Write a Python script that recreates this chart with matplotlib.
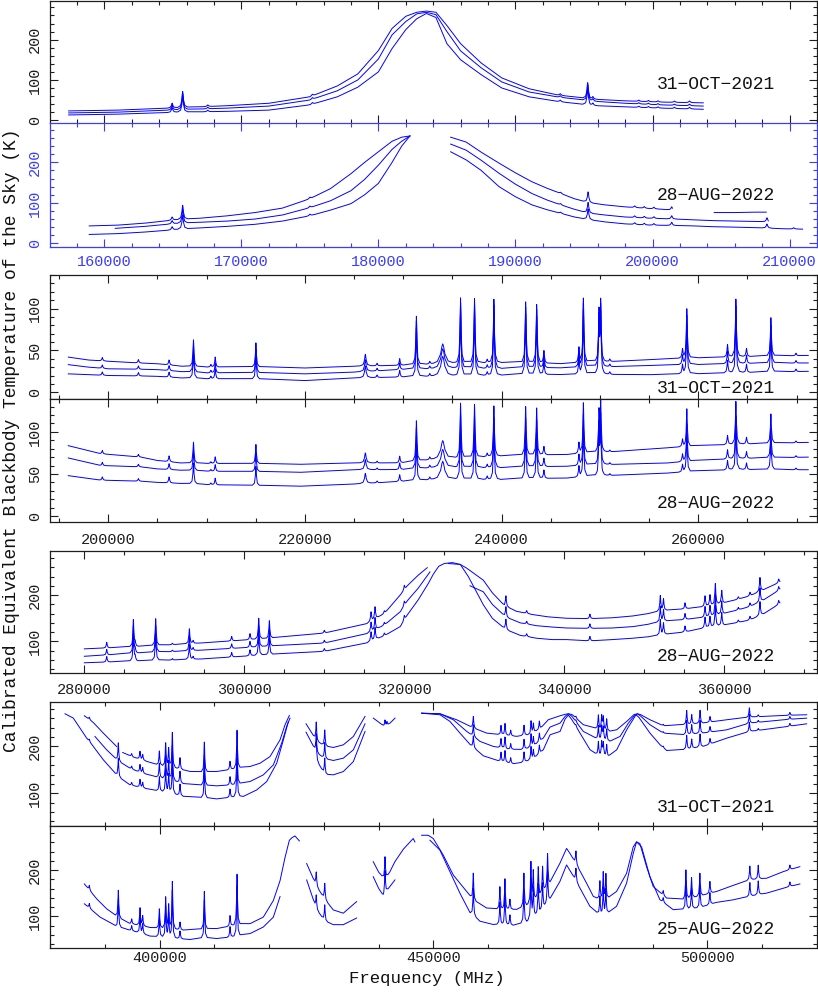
import numpy as np
import matplotlib
matplotlib.use("Agg")
import matplotlib.pyplot as plt
from matplotlib.ticker import MultipleLocator

plt.rcParams['font.family'] = ['Liberation Mono', 'DejaVu Sans Mono']
plt.rcParams['axes.formatter.useoffset'] = False

W, H = 818, 993
LINE = '#0000ff'
INK = '#1e1e1e'
AXBLUE = '#3c3cff'

# ---------------- panel 1 : 31-OCT-2021, 157-204 GHz ----------------
p1_freq = [157400, 161000, 165000, 169000, 172000, 175000, 177000, 178500, 180000, 181000, 182000, 182800,
           183500, 184200, 185000, 186000, 187500, 189000, 191000, 193000, 195500, 198000, 200500, 203700]
p1_top = [23, 25, 30, 36, 42, 58, 85, 115, 173, 228, 258, 268, 271, 268, 235, 190, 142, 105, 78, 63, 52, 48, 45, 43]
p1_mid = [18, 20, 25, 30, 35, 50, 73, 100, 152, 212, 245, 264, 268, 262, 220, 172, 130, 95, 70, 58, 47, 42, 38, 35]
p1_low = [13, 15, 19, 22, 25, 38, 58, 82, 120, 178, 225, 252, 265, 255, 190, 150, 113, 80, 58, 47, 36, 33, 30, 27]
p1_lines = [164950, 165720, 167550, 175180, 193270, 195270, 195650, 199000, 199700, 200400, 201600, 202700]
p1_amps = [12, 40, 4, 4, 4, 40, 6, 3, 3, 3, 3, 4]

# ---------------- panel 2 : 28-AUG-2022, 158-211 GHz ----------------
p2_top_a_f = [158900, 161000, 163000, 165000, 167000, 169000, 171000, 173000, 175000, 176500, 178000, 179000,
              180000, 181000, 181700, 182300]
p2_top_a = [43, 45, 50, 57, 62, 68, 76, 87, 110, 135, 172, 200, 226, 252, 262, 265]
p2_mid_a_f = [160800, 163000, 165000, 167000, 169000, 171000, 173000, 175000, 176500, 178000, 179000, 180000,
              181000, 181700, 182300]
p2_mid_a = [37, 42, 48, 52, 55, 60, 70, 88, 105, 130, 158, 193, 232, 252, 265]
p2_low_a_f = [158900, 161000, 163000, 165000, 167000, 169000, 171000, 173000, 175000, 176500, 178000, 179000,
              180000, 181000, 181700, 182300]
p2_low_a = [22, 24, 28, 33, 38, 42, 47, 55, 68, 82, 98, 120, 148, 200, 240, 265]
p2_top_b_f = [185270, 186400, 187500, 188800, 190000, 191200, 192300, 193300, 194300, 195300, 196500, 198000,
              199700, 200700, 201450]
p2_top_b = [262, 250, 225, 198, 174, 152, 136, 123, 110, 100, 95, 90, 86, 84, 82]
p2_top_c_f = [204500, 206000, 207500, 208300]
p2_top_c = [76, 76, 77, 77]
p2_mid_b_f = [185270, 186400, 187500, 188800, 190000, 191200, 192300, 193300, 194300, 195300, 196500, 198000,
              199700, 201500, 203000, 204500, 206000, 207500, 208450]
p2_mid_b = [245, 230, 205, 173, 146, 123, 107, 95, 84, 74, 70, 65, 62, 60, 58, 56, 55, 54, 53]
p2_low_b_f = [185270, 186400, 187500, 188800, 190000, 191200, 192300, 193300, 194300, 195300, 196500, 198000,
              199700, 201500, 203000, 204500, 206000, 208000, 209500, 210950]
p2_low_b = [226, 206, 180, 140, 115, 95, 83, 74, 65, 58, 53, 48, 45, 44, 43, 41, 40, 38, 36, 35]
p2_lines = [164950, 165720, 175000, 193300, 195300, 198700, 199400, 200100, 201400, 208350, 210300]
p2_amps = [8, 35, 4, 3, 27, 4, 4, 4, 8, 10, 3]

# ---------------- panels 3 / 4 : 196-271 GHz ----------------
p3_freq = [195930, 198000, 200000, 203000, 205000, 207500, 210000, 215000, 220000, 225000, 229700, 235000,
           240000, 246000, 250500, 255200, 260000, 263650, 271180]
p3_top = [42, 38.5, 37, 35, 34, 31, 30, 30, 29, 31, 32, 34, 35, 34, 36, 39, 41, 42, 44]
p3_mid = [33, 30, 28, 27.5, 27, 24.5, 23, 23, 22, 24, 27, 28, 28, 29, 30, 32, 33, 34, 35]
p3_low = [22, 21, 20, 19.5, 19, 17, 16, 15.5, 14, 17, 18, 19, 20, 21, 21, 21, 22, 23, 25]

p4_freq = [195930, 199220, 203290, 204990, 207360, 210760, 215000, 219580, 225010, 229700, 233100, 239900,
           246680, 251000, 256860, 263650, 271180]
p4_top = [83.6, 74, 70, 66, 63, 62.3, 62, 61.5, 63, 63, 67, 71, 73, 76, 81, 85, 87.5]
p4_mid = [69, 60, 58.4, 56, 54.4, 53, 52.5, 52, 55, 55, 57, 57, 59, 61, 63, 68, 70]
p4_low = [48, 42.6, 41.4, 40, 38.7, 37, 36, 35.5, 38, 41, 43, 43, 45, 48, 51, 55, 55]

p34_lines = [199390, 203060, 206180, 208660, 210430, 210870, 215010, 226140, 227330, 229630,
             231330, 232690, 234010, 235820, 237240, 238530, 239210, 242440, 243560, 244300,
             247860, 248310, 249900, 250070, 251000, 258390, 258830, 262970, 263820, 264900,
             267380, 269930]
p3_amps = [4, 4, 6, 32, 3, 12, 29, 14, 3, 8, 58, 3, 24, 78, 77, 4, 76, 73, 70, 15,
           18, 77, 58, 70, 3, 11, 59, 15, 69, 10, 46, 3]
p4_amps = [4, 3, 7, 25, 2, 8, 23, 12, 2, 8, 48, 3, 22, 65, 63, 4, 60, 58, 56, 10,
           13, 60, 47, 57, 2, 9, 45, 11, 51, 8, 35, 2]
p34_width = [60, 60, 60, 60, 60, 60, 60, 90, 60, 60, 60, 60, 220, 60, 60, 60, 60, 60, 60, 60,
             60, 60, 60, 60, 60, 60, 60, 60, 60, 60, 60, 60]

# ---------------- panel 5 : 28-AUG-2022, 280-367 GHz ----------------
p5_top_a_f = [280000, 286000, 294500, 302800, 310000, 315300, 317500, 319500, 320500, 321750, 322870]
p5_top_a = [84, 88, 96.5, 106, 118, 138, 160, 200, 222, 243, 259]
p5_mid_a_f = [280000, 286000, 294500, 302800, 310000, 315300, 317500, 319500, 320500, 321750, 323210]
p5_mid_a = [68, 74, 81, 89, 96.5, 116.5, 135, 164, 190, 215, 250]
p5_low_f = [280000, 286000, 294500, 302800, 310000, 315300, 317500, 319500, 320500, 321750, 323000, 323630,
            324300, 325000, 326000, 327000, 328000, 329880, 331000, 332700, 334500, 336500, 338500, 340300,
            343200, 346000, 348600, 350500, 352200, 355000, 357600, 360000, 363200, 365000, 366960]
p5_low = [54, 57, 62, 71, 78.6, 96.5, 112, 132, 160, 190, 225, 245, 262, 268, 270, 266, 240, 179, 150, 125,
          113, 107, 104, 104, 101, 104, 107, 110, 114, 120, 129, 135, 146, 160, 182]
p5_top_b_f = [325500, 327000, 327800, 329880, 331000, 332500, 334000, 336000, 338000, 340300, 343200, 346000,
              348600, 350500, 352200, 355000, 357600, 360000, 363200, 365000, 366960]
p5_top_b = [268, 266, 258, 232, 205, 177, 165, 158, 153, 150, 149, 151, 155, 160, 166, 170, 175, 183, 198, 212, 228]
p5_mid_b_f = [328210, 329880, 331000, 332700, 334500, 336500, 338500, 340300, 343200, 346000, 348600, 350500,
              352200, 355000, 357600, 360000, 363200, 365000, 366960]
p5_mid_b = [220, 207, 180, 152, 140, 134, 131, 129, 128, 129, 132, 137, 143, 147, 152, 160, 175, 190, 212]
p5_lines = [282800, 286130, 286350, 288920, 291000, 293130, 293600, 298420, 300710, 301800,
            303130, 310000, 315840, 316340, 317500, 320000, 332700, 335300, 343200, 352000,
            352400, 355090, 357590, 358210, 358880, 359680, 361750, 363210, 364460, 366800]
p5_amps = [12, 58, 10, 58, 3, 32, 6, 10, 13, 45, 38, 6, 20, 26, 6, 10, 23, 6, 10, 33,
           25, 13, 23, 23, 45, 28, 5, 8, 30, 8]

# ---------------- panel 6 : 31-OCT-2021, 383-518 GHz ----------------
p6_top_a_f = [386270, 387910, 389740, 392170]
p6_top_a = [265.5, 251, 228.4, 199.8]
p6_top_b_f = [393270, 395210, 397650, 400080, 402510, 405560, 407990, 410430, 412860, 414680, 416510, 418340,
              420160, 421990, 422900, 423690]
p6_top_b = [187, 177, 167.7, 158.4, 153.4, 146.3, 144.1, 146.3, 149.9, 153.4, 157, 164.1, 178.4, 214.1, 246.2, 266.2]
p6_mid_a_f = [388210, 390340, 392470, 394600, 396430, 400080, 404340, 407990, 410430, 414080, 416510, 418940,
              420770, 422290, 423200, 423810]
p6_mid_a = [221.3, 192.7, 167.7, 153.4, 144.1, 132, 119.9, 115.6, 115.6, 117.7, 124.9, 139.2, 160.6, 207, 242.7, 260.5]
p6_low_a_f = [382740, 384260, 385480, 386690, 387910, 389740, 392470, 394600, 397040, 400080, 404340, 407990,
              410430, 412860, 415290, 417730, 419550, 421380, 422600, 423510]
p6_low_a = [269.8, 260.5, 239.1, 217.7, 199.8, 171.3, 134.2, 117.7, 110.6, 103.5, 92.7, 89.2, 87.7, 90.6, 92.7,
            107, 124.9, 164.1, 214.1, 253.4]
p6_g2_f = [426730, 428680, 430200, 431720, 433540, 435370, 437500]
p6_g2_top = [248.4, 210.6, 199.8, 197.7, 203.4, 221.3, 264.1]
p6_g2_mid = [230.5, 185.6, 172.7, 169.9, 174.9, 192.7, 248.4]
p6_g2_low_f = [428550, 430200, 431720, 433540, 435370, 437500]
p6_g2_low = [171.3, 139.2, 139.2, 146.3, 167.7, 232]
p6_g3_f = [439020, 440200, 441150, 442100, 442980]
p6_g3 = [260.5, 250, 241.3, 250, 260.5]
p6_top_c_f = [447840, 451190, 454230, 457270, 459710, 462140, 465180, 467620, 469440, 470960, 473100, 474000,
              474610, 475300, 477350, 480390, 482220, 483440, 485260, 486600, 487210, 487800, 489520, 491960,
              495610, 499260, 503520, 507780, 513860, 518120]
p6_top_c = [271, 269.8, 257, 239, 228.4, 224.8, 221.3, 224.8, 237, 257, 265.5, 268.5, 269.8, 268, 246.3,
            235.5, 232, 235.5, 253.4, 268, 269.8, 268, 257, 244.1, 246.3, 249.8, 257, 262.7, 266.2, 267.7]
p6_mid_c_f = [447840, 451190, 453620, 456060, 458490, 460930, 463360, 466400, 468230, 470050, 471270, 473100,
              474000, 474610, 475200, 477350, 480090, 482220, 484050, 485570, 486600, 487210, 487800, 489520,
              491960, 495610, 499260, 503520, 507780, 513860, 518120]
p6_mid_c = [271, 269.8, 257, 232, 210.6, 199.8, 194.1, 192.7, 199.8, 217.7, 241.3, 249.8, 264, 269.8, 265,
            232, 214.1, 210.6, 221.3, 249.8, 265, 269.8, 265, 246.3, 228.4, 224.8, 228.4, 235.5, 249.8, 257, 260.5]
p6_low_c_f = [447840, 451190, 453010, 454840, 456670, 459100, 462140, 464570, 466400, 468230, 470050, 471270,
              473100, 474000, 474610, 475200, 476740, 478570, 480090, 481910, 483440, 485260, 486960, 487500,
              489520, 491350, 492560, 495610, 499260, 503520, 507780, 513860, 518120]
p6_low_c = [271, 267.7, 253.4, 228.4, 203.4, 179.9, 167.7, 162.7, 165.6, 172.7, 192.7, 224.8, 232, 258, 267,
            258, 228.4, 192.7, 179.9, 178.4, 192.7, 235.5, 267.7, 262, 228.4, 203.4, 191.3, 192.7, 199.8,
            217.7, 232, 241.3, 248.4]
p6_lines = [387180, 392470, 394910, 396430, 396920, 399960, 401110, 401660, 402330, 403730,
            408170, 412860, 414140, 428600, 430150, 441150, 441500, 457270, 462320, 463050,
            464090, 466520, 467800, 468230, 469320, 476000, 480090, 480700, 481000, 481610,
            491930, 496210, 497130, 498650, 500470, 507650, 509270, 515050]
p6_amps = [5, 40, 6, 17, 12, 31, 50, 40, 75, 25, 65, 18, 82, 40, 35, 15, 8, 25, 20, 25,
           12, 22, 28, 20, 18, 4, 30, 30, 28, 25, 3, 30, 20, 28, 12, 20, 4, 6]

# ---------------- panel 7 : 25-AUG-2022, 386-517 GHz ----------------
p7_up_a_f = [386270, 388520, 390340, 392470, 394600, 398260, 401910, 404340, 407990, 410430, 414080, 416510,
             418940, 420770, 421990, 422900, 423690, 424200, 424720, 425520]
p7_up_a = [170, 137.9, 116.4, 96.4, 84.3, 75.7, 71.4, 70, 71.4, 73.6, 80.7, 84.3, 98.6, 134.3, 177.1, 227.1,
           264.2, 270, 273.5, 262.8]
p7_lo_a_f = [386270, 389130, 392170, 394600, 398260, 401910, 405560, 407990, 410430, 414080, 416510, 418940,
             420770, 421990]
p7_lo_a = [127.1, 98.6, 77.2, 70, 57.2, 52.2, 50, 52.2, 52.2, 55.7, 62.9, 77.2, 98.6, 142.8]
p7_g2_f = [426850, 428670, 430190, 431700, 433530, 435970]
p7_g2_up = [214, 164, 135.7, 114, 107, 132]
p7_g2_lo = [178.6, 114, 89.3, 82.2, 82.2, 96.6]
p7_g3_up_f = [439000, 440000, 441140, 442000, 442960, 444500, 446300, 446610]
p7_g3_up = [218, 195, 178.6, 195, 218, 245, 268, 260.6]
p7_g3_lo_f = [439000, 440000, 440830, 441800, 442960]
p7_g3_lo = [185.7, 160, 144, 160, 178.6]
p7_up_c_f = [447830, 449045, 449960, 451780, 453610, 456040, 457260, 459690, 462120, 465170, 467000, 469420,
             471250, 473070, 474290, 474900, 476110, 477940, 479160, 480370, 481590, 483410, 485240, 486460,
             487060, 487670, 488890, 490110, 492540, 495580, 498620, 501660, 504100, 507740, 510790, 513830,
             516870]
p7_up_c = [275, 275, 267.9, 232.2, 189.3, 153.6, 134.4, 118, 114.4, 114.4, 121.5, 142.9, 171.5, 214.3, 246.4,
           235.7, 210.8, 171.5, 142.9, 134.4, 135.8, 153.6, 192.9, 250, 260.7, 257.1, 207.2, 164.3, 139.4,
           135.8, 142.9, 153.6, 164.3, 178.6, 182.2, 196.5, 207.2]
p7_lo_c_f = [449350, 451175, 453000, 454820, 456650, 458470, 460900, 464550, 467000, 469420, 471250, 473070,
             474290, 475200, 476720, 478550, 480370, 481590, 483410, 485240, 486460, 487060, 487980, 489500,
             491320, 493760, 496190, 498620, 501660, 504700, 507740, 510790, 513830, 516870]
p7_lo_c = [264.3, 242.9, 196.5, 150.1, 107.3, 89.4, 82.2, 80.1, 85.8, 107.3, 135.8, 175, 210.8, 192.9, 160.8,
           121.5, 101.5, 103.7, 121.5, 171.5, 235.7, 260.7, 250, 185.8, 135.8, 114.4, 114.4, 118, 130.1, 135.8,
           142.9, 150.1, 160.8, 170]
p7_lines = [387180, 392470, 394910, 396430, 396920, 399960, 401110, 401660, 402330, 403730,
            408170, 412860, 414140, 428600, 430150, 441150, 457260, 462120, 463040, 463950,
            466500, 467780, 468210, 469120, 469910, 470820, 476000, 480370, 480980, 481470,
            491930, 496070, 497100, 498620, 500450, 507740, 509270, 515050]
p7_amps = [10, 60, 11, 38, 22, 42, 68, 52, 103, 17, 82, 23, 110, 30, 35, 50, 59, 49, 66, 22,
           73, 87, 64, 65, 56, 70, 28, 41, 59, 55, 10, 63, 44, 50, 26, 30, 30, 10]


def trace(freq, temp, lines, amps, width):
    # continuum knots plus a narrow spike drawn at every listed line
    freq = np.asarray(freq, float)
    temp = np.asarray(temp, float)
    lines = np.asarray(lines, float)
    amps = np.asarray(amps, float)
    width = np.broadcast_to(np.asarray(width, float), lines.shape)
    keep = (lines >= freq[0]) & (lines <= freq[-1])
    lines, amps, width = lines[keep], amps[keep], width[keep]
    offs = np.array([-6, -2.5, -1, -0.35, 0, 0.35, 1, 2.5, 6])
    extra = (lines[:, None] + offs[None, :] * width[:, None]).ravel()
    extra = extra[(extra >= freq[0]) & (extra <= freq[-1])]
    x = np.union1d(freq, extra)
    y = np.interp(x, freq, temp)
    for f0, a, w in zip(lines, amps, width):
        y = y + a / (1 + ((x - f0) / w) ** 2)
    return x, y


def draw(ax, segments, lines, amps, width):
    for f, t in segments:
        x, y = trace(f, t, lines, amps, width)
        ax.plot(x, y, color=LINE, lw=0.7)


fig = plt.figure(figsize=(W / 100, H / 100), dpi=100)


def add_panel(top, bottom):
    return fig.add_axes([50 / W, 1 - bottom / H, 767 / W, (bottom - top) / H])


def dress(ax, xlim, ylim, xmaj, xmin, ymaj, ymin, color=INK, xlabels=False, xpad=5):
    ax.set_xlim(*xlim)
    ax.set_ylim(*ylim)
    ax.xaxis.set_major_locator(MultipleLocator(xmaj))
    ax.xaxis.set_minor_locator(MultipleLocator(xmin))
    ax.yaxis.set_major_locator(MultipleLocator(ymaj))
    ax.yaxis.set_minor_locator(MultipleLocator(ymin))
    ax.tick_params(which='both', direction='in', top=True, right=True, color=color,
                   labelcolor=color, width=0.8, labelsize=11)
    ax.tick_params(which='major', length=6)
    ax.tick_params(which='minor', length=3)
    ax.tick_params(axis='x', labelbottom=xlabels, pad=xpad)
    ax.tick_params(axis='y', labelrotation=90, pad=6)
    plt.setp(ax.get_yticklabels(), va='center')
    for s in ax.spines.values():
        s.set_color(color)
        s.set_linewidth(0.9)


def date(ax, text, yfrac):
    ax.text(0.945, yfrac, text, transform=ax.transAxes, ha='right', va='center', fontsize=13, color='#111111')


ax1 = add_panel(1, 123)
draw(ax1, [(p1_freq, p1_top), (p1_freq, p1_mid), (p1_freq, p1_low)], p1_lines, p1_amps, 60)
dress(ax1, (156040, 212000), (-7, 296), 10000, 2000, 100, 20)
ax1.spines['bottom'].set_visible(False)
for t in ax1.xaxis.get_major_ticks() + ax1.xaxis.get_minor_ticks():
    t.tick1line.set_color(AXBLUE)
date(ax1, '31\u2212OCT\u22122021', 0.313)

ax2 = add_panel(123, 247)
draw(ax2, [(p2_top_a_f, p2_top_a), (p2_mid_a_f, p2_mid_a), (p2_low_a_f, p2_low_a),
           (p2_top_b_f, p2_top_b), (p2_top_c_f, p2_top_c), (p2_mid_b_f, p2_mid_b), (p2_low_b_f, p2_low_b)],
     p2_lines, p2_amps, 60)
dress(ax2, (156040, 212000), (-9, 297), 10000, 2000, 100, 20, color=AXBLUE, xlabels=True, xpad=6)
date(ax2, '28\u2212AUG\u22122022', 0.414)

ax3 = add_panel(275, 399)
draw(ax3, [(p3_freq, p3_top), (p3_freq, p3_mid), (p3_freq, p3_low)], p34_lines, p3_amps, p34_width)
dress(ax3, (194070, 272070), (-8, 140), 20000, 5000, 50, 10)
date(ax3, '31\u2212OCT\u22122021', 0.088)

ax4 = add_panel(399, 522)
draw(ax4, [(p4_freq, p4_top), (p4_freq, p4_mid), (p4_freq, p4_low)], p34_lines, p4_amps, p34_width)
dress(ax4, (194070, 272070), (-7, 139), 20000, 5000, 50, 10, xlabels=True, xpad=8)
date(ax4, '28\u2212AUG\u22122022', 0.154)

ax5 = add_panel(551, 673)
draw(ax5, [(p5_top_a_f, p5_top_a), (p5_mid_a_f, p5_mid_a), (p5_low_f, p5_low),
           (p5_top_b_f, p5_top_b), (p5_mid_b_f, p5_mid_b)], p5_lines, p5_amps, 70)
dress(ax5, (275710, 371590), (32, 295), 20000, 5000, 100, 20, xlabels=True, xpad=7)
date(ax5, '28\u2212AUG\u22122022', 0.135)

ax6 = add_panel(702, 826)
draw(ax6, [(p6_top_a_f, p6_top_a), (p6_top_b_f, p6_top_b), (p6_mid_a_f, p6_mid_a), (p6_low_a_f, p6_low_a),
           (p6_g2_f, p6_g2_top), (p6_g2_f, p6_g2_mid), (p6_g2_low_f, p6_g2_low), (p6_g3_f, p6_g3),
           (p6_top_c_f, p6_top_c), (p6_mid_c_f, p6_mid_c), (p6_low_c_f, p6_low_c)], p6_lines, p6_amps, 90)
dress(ax6, (380000, 520000), (30, 295), 50000, 10000, 100, 20)
date(ax6, '31\u2212OCT\u22122021', 0.149)

ax7 = add_panel(826, 948)
draw(ax7, [(p7_up_a_f, p7_up_a), (p7_lo_a_f, p7_lo_a), (p7_g2_f, p7_g2_up), (p7_g2_f, p7_g2_lo),
           (p7_g3_up_f, p7_g3_up), (p7_g3_lo_f, p7_g3_lo), (p7_up_c_f, p7_up_c), (p7_lo_c_f, p7_lo_c)],
     p7_lines, p7_amps, 90)
dress(ax7, (380000, 520000), (32, 295), 50000, 10000, 100, 20, xlabels=True, xpad=2.5)
date(ax7, '25\u2212AUG\u22122022', 0.155)

fig.text(12 / W, 1 - 440 / H, 'Calibrated Equivalent Blackbody Temperature of the Sky (K)',
         rotation=90, ha='center', va='center', fontsize=13, color='#111111')
fig.text(427 / W, 1 - 978 / H, 'Frequency (MHz)', ha='center', va='center', fontsize=12.5, color='#111111')

fig.savefig('out.png', dpi=100)
